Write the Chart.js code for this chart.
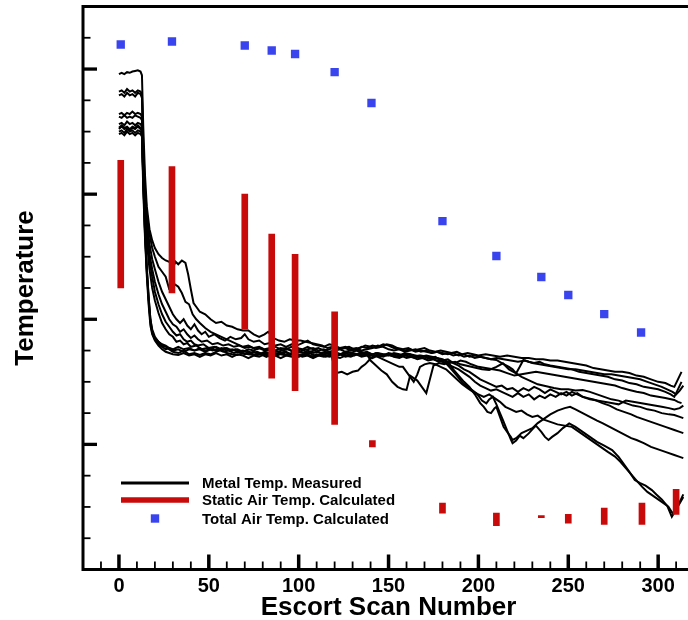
<!DOCTYPE html>
<html><head><meta charset="utf-8">
<script src="https://cdn.jsdelivr.net/npm/chart.js@4.4.1/dist/chart.umd.min.js"></script>
<style>html,body{margin:0;padding:0;overflow:hidden;background:#fff}#wrap{width:700px;height:620px}</style>
</head><body><div id="wrap"><canvas id="c" width="700" height="620"></canvas></div>
<script>
// ---- data ----
const legendLabels = ['Metal Temp. Measured', 'Static Air Temp. Calculated', 'Total Air Temp. Calculated'];
const xTitle = 'Escort Scan Number';
const yTitle = 'Temperature';

const staticX    = [1, 29.5, 70, 85, 98, 120, 141, 180, 210, 235, 250, 270, 291, 310];
const staticLow  = [125, 121, 92, 53, 43, 16, -2, -55, -65, -58.6, -63, -64, -64, -56];
const staticHigh = [227, 222, 200, 168, 152, 106, 3, -47, -55, -57, -56, -51, -47, -36];

const totalX = [1, 29.5, 70, 85, 98, 120, 140.5, 180, 210, 235, 250, 270, 290.5];
const totalY = [319.6, 322, 318.8, 314.8, 312, 297.6, 272.9, 178.5, 150.6, 133.8, 119.4, 104.1, 89.4];

const metal1 = [[0,296],[1.5,297],[3,296],[4.5,297.5],[6,297],[7.5,298],[9,298.5],[10.5,299],[12,298],[12.8,295],
[13.5,255],[14.5,215],[15.5,190],[17,172],[18.5,163],[20,157],[22,152],[24,149],[26,147],[28,146],[30,141],[31.5,146],[33,144],[35,147],[37,145],[38.5,136],[40,124],[41.5,113],[43,110],[45,106],[48,104],[51,100],[54,97],[57,98],[60,95],[63,94],[66,92],[69,91],[72,91],[75,88],[78,86],[81,88],[83,90],[86,85],[89,83],[92,82],[95,84],[98,83],[101,83],[104,82],[107,81],[110,80],[113,79],[116,77],[119,78],[122,76],[125,77],[128,78],[131,76],[134,77],[137,79],[140,78],[143,77],[146,78],[149,80],[152,79],[155,77],[158,76],[161,77],[164,75],[167,76],[170,77],[173,75],[176,74],[179,75],[182,74],[185,73],[188,74],[191,72],[194,73],[197,72],[200,71],[204,72],[208,71],[212,70],[216,71],[220,70],[224,69],[228,69],[232,68],[236,68],[240,67],[244,67],[248,66],[252,65],[256,64],[260,63],[264,61],[268,60],[272,59],[276,58],[280,58],[284,57],[288,55],[292,54],[296,52],[300,50],[304,49],[307,47],[309,46],[311,52],[313,58]];

const metal2 = [[0,282],[1.5,283],[3,281],[4.5,284],[6,282],[7.5,283],[9,281],[10.5,283],[12,282],[12.8,280],
[13.5,240],[14.5,205],[15.5,185],[17,168],[18.5,157],[20,150],[22,142],[24,138],[26,134],[28,124],[29.5,123],[31,128],[33,126],[35,121],[37,114],[39,112],[41,104],[43,100],[45,97],[48,93],[51,90],[54,88],[57,86],[60,84],[63,82],[66,80],[69,78],[72,79],[75,77],[78,78],[81,76],[84,77],[87,75],[90,77],[93,76],[96,78],[99,77],[102,75],[105,76],[108,77],[111,75],[114,76],[117,74],[120,75],[123,76],[126,74],[129,75],[132,76],[135,74],[138,72],[140,67],[143,63],[146,59],[149,56],[152,50],[155,46],[158,44],[160,43.5],[162,55],[164,53],[166,51],[168,47],[171,41],[173,52],[175,63],[178,65],[181,64],[184,66],[187,65],[190,67],[193,66],[196,64],[200,62],[204,61],[208,60],[212,59],[216,57],[220,55],[224,56],[228,57],[232,58],[236,57],[240,56],[244,55],[248,54],[252,53],[256,52],[260,51],[264,50],[268,49],[272,48],[276,47],[280,45],[284,43.5],[288,42],[292,41],[296,39],[300,38],[304,37],[309,35.5],[311,34],[313,33]];

const metal3 = [[0,279],[1.5,280],[3,278],[4.5,281],[6,279],[7.5,280],[9,278],[10.5,281],[12,280],[12.8,277],
[13.5,235],[14.5,195],[15.5,172],[17,152],[18.5,140],[20,130],[22,120],[24,112],[26,106],[28,100],[30,96],[32,94],[34,90],[36,92],[38,88],[40,85],[42,87],[44,84],[46,82],[49,83],[52,80],[55,81],[58,79],[61,80],[64,78],[67,79],[70,77],[73,78],[76,76],[79,77],[82,75],[85,76],[88,74],[91,75],[94,76],[97,74],[100,75],[103,73],[106,74],[109,75],[112,73],[115,74],[118,72],[119.5,64],[121,57],[124,58],[127,56],[130,58],[133,59],[135,62],[137,64],[139,67],[141,70],[144,72],[147,71],[150,73],[153,72],[156,71],[159,73],[162,72],[165,71],[168,70],[171,71],[174,70],[177,69],[180,68],[183,66],[186,60],[189,55],[192,50],[195,46],[198,40],[201,33],[203,30],[205,26],[207,25],[209,29],[210,30],[212,22],[214,14],[216,10],[218,6],[219,3.5],[221,5],[224,9],[227,11],[230,13],[233,17],[236,20],[240,24],[244,27],[248,29],[251,30],[254,28],[258,25],[262,22],[266,19],[269,17],[273,14],[277,11],[281,8],[285,5],[288,3.5],[292,1],[296,-2],[300,-4],[304,-6],[309,-8.5],[312,-10],[314,-11]];

const metal4 = [[0,264],[1.5,265],[3,263],[4.5,265],[6,264],[7.5,266],[9,264],[10.5,265],[12,264],[12.8,262],
[13.5,225],[14.5,190],[15.5,168],[17,148],[18.5,134],[20,122],[22,112],[24,104],[26,98],[28,94],[30,90],[32,87],[34,88],[36,84],[38,82],[40,83],[42,80],[44,79],[47,80],[50,77],[53,78],[56,76],[59,77],[62,75],[65,76],[68,74],[71,75],[74,73],[77,74],[80,72],[83,73],[86,71],[89,72],[92,74],[95,72],[98,73],[101,71],[104,72],[107,70],[110,72],[113,71],[116,73],[119,72],[122,71],[125,73],[128,72],[131,71],[134,73],[137,72],[140,71],[143,73],[146,72],[149,71],[152,72],[155,70],[158,71],[161,72],[164,70],[167,71],[170,70],[173,69],[176,70],[179,67],[182,64.8],[185,60],[188,55],[191.5,48.8],[195,45],[199,40.8],[202,35],[204.4,32.8],[206,36],[208,38],[210,32],[212,25],[213.6,19.5],[216,11],[218,4],[219,1],[221,3],[223,7],[225,5],[228,8.8],[230,12],[232,15],[235,10],[237,6],[239,3.5],[241,6],[244,9],[247,13],[250.5,16.8],[254,14],[258,10],[262,6],[266,2],[270,-1],[274.4,-4.5],[278,-10],[281,-16],[284,-22],[287,-28.5],[290,-31],[293,-33],[296.5,-36.5],[299,-40],[302,-44],[305,-49],[307.6,-57.8],[310,-52],[312,-46],[314,-40]];

const metal5 = [[0,262],[1.5,261],[3,263],[4.5,261],[6,262],[7.5,261],[9,263],[10.5,262],[12,261],[12.8,259],
[13.5,215],[14.5,170],[15.5,140],[16.5,118],[17.5,100],[18.5,92],[20,86],[22,82],[24,79],[26,78],[28,76],[30,74],[33,73],[36,75],[39,72],[42,73],[45,71.5],[48,73],[51,72],[54,74],[57,75.5],[60,73],[63,72],[66,71.5],[69,73],[72,72],[75,71.5],[78,73],[81,72],[84,71],[87,73],[90,72],[93,71],[96,73],[99,72],[102,71],[105,72],[108,70],[111,71],[114,72],[117,70],[120,71],[123,72],[126,70],[129,71],[132,72],[135,71],[138,73],[141,72],[144,70],[147,68],[150,66],[153,64],[156,62],[158,62],[160,58],[162,54],[164,50],[166,56],[167.5,62],[170,64],[173,65],[176,64],[179,62],[182,60],[185,56],[188,52],[191,48],[194,45],[197,42],[200,40],[203,38],[206,40],[209,37],[212,34],[215,30],[218,28],[221,26],[224,27],[227,24],[230,22],[233,23],[236,20],[240,18],[244,16],[248,15],[252,14],[256,10],[260,6],[264,2],[268,-2],[272,-6],[276,-9.8],[279,-14],[282,-19],[285,-24],[288,-29],[291,-33.8],[294,-38],[297,-41],[300,-44],[303,-47],[305.7,-49.8],[308,-55],[310,-52],[312,-47],[314,-42]];

const metal6 = [[0,256],[1.5,257],[3,255],[4.5,258],[6,256],[7.5,257],[9,255],[10.5,257],[12,256],[12.8,254],
[13.5,210],[14.5,168],[15.5,138],[16.5,115],[17.5,98],[18.5,89],[20,84],[22,80],[24,78],[26,76],[28,77],[30,75],[33,76],[36,74],[39,76],[42,75],[45,77],[48,75],[51,76],[54,78],[57,76],[60,77],[63,75],[66,76],[69,74],[72,76],[75,75],[78,77],[81,75],[84,76],[87,78],[90,76],[93,77],[96,75],[99,77],[102,76],[105,78],[108,76],[111,77],[114,75],[117,76],[120,78],[123,76],[126,77],[129,75],[132,76],[135,78],[138,77],[141,79],[144,78],[147,80],[150,79],[153,77],[156,76],[159,75],[162,76],[165,74],[168,75],[171,74],[174,73],[177,74],[180,73],[183,72],[186,73],[189,71],[192,72],[195,70],[198,71],[201,70],[204,69],[207,68],[210,67.5],[213,65],[217,62],[219,60],[221,56.8],[223,62],[225,67.5],[228,66],[231,65],[234,66],[237,64],[240,63],[244,62],[248,61],[252,60],[256,58],[260,57],[264,56],[268,55],[272,54],[276,52],[280,51],[284,49],[288,48],[292,46],[296,45],[300,44],[304,42],[307,40],[309,38],[311,44],[313,50]];

const metal7 = [[0,253],[1.5,255],[3,253],[4.5,254],[6,252],[7.5,254],[9,253],[10.5,255],[12,253],[12.8,251],
[13.5,215],[14.5,182],[15.5,162],[17,140],[18.5,125],[20,115],[22,105],[24,97],[26,92],[28,88],[30,86],[32,82],[34,83],[36,80],[38,81],[40,78],[43,79],[46,76],[49,77],[52,75],[55,76],[58,74],[61,75],[64,73],[67,74],[70,72],[73,73],[76,71],[79,72],[82,70],[85,72],[88,71],[91,73],[94,71],[97,72],[100,70],[103,72],[106,73],[109,71],[112,72],[115,70],[118,71],[121,73],[124,72],[127,71],[130,73],[133,72],[136,71],[139,72],[142,71],[145,70],[148,72],[151,71],[154,70],[157,71],[160,69],[163,70],[166,68],[169,69],[172,67],[175,68],[178,66],[181,67],[184,65],[187,66],[190,64],[193,63],[196,62],[199,61],[202,60],[206,59.5],[210,62],[213.6,64.8],[217,60],[221,56.8],[224,54],[227,52],[230,50],[233,48],[236,47],[239,46],[242,45],[246,44],[250,44],[254,43],[258,43.5],[262,42],[266,40],[270,38],[274,36],[278,35],[282,33],[286,31],[290,30],[294,28],[298,27],[302,25],[306,24],[309,23.5],[312,22],[314,21]];

const metal8 = [[0,250],[1.5,251],[3,249],[4.5,252],[6,250],[7.5,251],[9,249],[10.5,251],[12,250],[12.8,248],
[13.5,205],[14.5,165],[15.5,135],[16.5,112],[17.5,95],[18.5,88],[20,83],[22,79],[24,76],[26,74],[28,73],[30,72],[33,71.5],[36,73],[39,71],[42,72],[45,70],[48,72],[51,71],[54,73],[57,71],[60,72],[63,70],[66,72],[69,71],[72,69],[75,71],[78,70],[81,72],[84,70],[87,71],[90,69],[93,71],[96,70],[99,72],[102,70],[105,71],[108,69],[111,71],[114,70],[117,72],[120,70],[123,69],[126,71],[129,70],[132,72],[135,70],[138,71],[141,69],[144,71],[147,70],[150,72],[153,70],[156,69],[159,71],[162,70],[165,69],[168,70],[171,68],[174,69],[177,67],[180,66],[183,64],[186,62],[189,60],[192,57],[195,54],[198,50],[201,47],[204,45],[207,43],[210,44],[213,42],[216,40],[219,38],[222,41],[225,38],[228,40],[231,36],[234,39],[237,37],[240,40],[243,38],[246,41],[249,39],[252,42],[255,40],[258,38],[261,37],[265,35.5],[269,33],[273,31],[277,28],[281,26],[285,24],[288,22],[292,20],[296,18],[300,16],[304,14],[309,11.5],[312,10],[314,9]];

const metal9 = [[0,248],[1.5,249],[3,247],[4.5,250],[6,248],[7.5,249],[9,247],[10.5,249],[12,248],[12.8,246],
[13.5,220],[14.5,195],[15.5,178],[17,160],[18.5,148],[20,140],[22,130],[24,122],[26,116],[28,110],[30,104],[32,100],[34,97],[36,100],[38,95],[40,92],[42,96],[44,91],[46,88],[48,90],[50,86],[53,88],[56,85],[59,83],[62,86],[65,84],[68,85],[70,88],[72,84],[75,82],[78,83],[81,80],[84,81],[87,79],[90,80],[93,78],[96,80],[99,79],[102,81],[105,83],[108,80],[111,79],[114,78],[117,80],[120,79],[123,77],[126,78],[129,76],[132,77],[135,75],[138,76],[141,77],[144,79],[147,78],[150,76],[153,75],[156,76],[159,74],[162,75],[165,76],[168,74],[171,75],[174,73],[177,74],[180,72],[183,73],[186,71],[189,72],[192,70],[195,71],[198,69],[201,70],[204,69],[207,68],[210,69],[214,68],[218,67],[222,66],[226,67],[230,65],[234,64],[238,63],[242,62],[246,61],[250,60],[254,60],[258,59],[262,58],[266,57],[270,56],[274,56],[278,55],[282,54],[286,53],[290,52],[294,50],[298,48],[302,46],[305,44],[308,42],[310,40],[312,43],[314,47]];

const metal10 = [[0,252],[1.5,254],[3,252],[4.5,253],[6,251],[7.5,253],[9,252],[10.5,254],[12,252],[12.8,250],
[13.5,212],[14.5,172],[15.5,142],[16.5,118],[17.5,100],[18.5,90],[20,85],[22,82],[24,80],[26,79],[28,77],[30,76],[33,78],[36,76],[39,77],[42,75],[45,76],[48,74],[51,76],[54,75],[57,77],[60,75],[63,76],[66,74],[69,75],[72,73],[75,74],[78,72],[81,74],[84,73],[87,75],[90,73],[93,74],[96,72],[99,74],[102,73],[105,75],[108,73],[111,74],[114,72],[117,73],[120,74],[123,72],[126,74],[129,73],[132,75],[135,73],[138,74],[141,72],[144,73],[147,72],[150,71],[153,73],[156,72],[159,71],[162,72],[165,70],[168,71],[171,70],[174,68],[177,69],[180,67],[183,68],[186,65],[189,63],[192,60],[195,58],[198,55],[201,52],[204,50],[207,48],[210,46],[213,47],[216,44],[219,45],[222,42],[225,45],[228,43],[231,46],[234,44],[237,41],[240,44],[243,42],[246,40],[249,42],[252,39],[255,41],[258,38],[262,36],[266,35],[270,34],[274,33],[278,32],[282,35],[286,34],[290,33],[294,32],[298,31],[302,30],[306,29],[309,28],[312,29],[314,31]];

const metalTraces = [metal1, metal2, metal3, metal4, metal5, metal6, metal7, metal8, metal9, metal10];

// ---- styling ----
const RED = '#c80a0a';
const BLUE = '#3a44ee';
const FONT = '"Liberation Sans", Arial, sans-serif';

const datasets = [];
datasets.push({
  type: 'line', label: legendLabels[2],
  data: totalX.map((x, i) => ({x, y: totalY[i]})),
  showLine: false, pointStyle: 'rect', pointRadius: 5.9, pointBorderWidth: 0,
  pointBackgroundColor: BLUE, backgroundColor: BLUE, order: 0
});
datasets.push({
  type: 'bar', label: legendLabels[1],
  data: staticX.map((x, i) => ({x, y: [staticLow[i], staticHigh[i]]})),
  backgroundColor: RED, borderWidth: 0, barThickness: 6, grouped: false, order: 1
});
metalTraces.forEach((tr, k) => datasets.push({
  type: 'line', label: k === 0 ? legendLabels[0] : '',
  data: tr.map(p => ({x: p[0], y: p[1]})),
  borderColor: '#000', borderWidth: 2, pointRadius: 0, tension: 0, fill: false, order: 2
}));

const frameTicks = {
  id: 'frameTicks',
  afterDraw(chart) {
    const {ctx, chartArea: ca} = chart;
    const xs = chart.scales.x, ys = chart.scales.y;
    ctx.save();
    ctx.strokeStyle = '#000';
    ctx.lineCap = 'butt';
    xs.ticks.forEach(t => {
      if (t.value <= xs.min || t.value >= xs.max) return;
      const px = xs.getPixelForValue(t.value);
      const major = t.value % 50 === 0;
      ctx.lineWidth = major ? 3.5 : 1.8;
      ctx.beginPath(); ctx.moveTo(px, ca.bottom); ctx.lineTo(px, ca.bottom - (major ? 15 : 8)); ctx.stroke();
    });
    ys.ticks.forEach(t => {
      if (t.value <= ys.min || t.value >= ys.max) return;
      const py = ys.getPixelForValue(t.value);
      const major = t.value % 100 === 0;
      ctx.lineWidth = major ? 3.3 : 1.8;
      ctx.beginPath(); ctx.moveTo(ca.left, py); ctx.lineTo(ca.left + (major ? 14 : 7.5), py); ctx.stroke();
    });
    ctx.lineWidth = 3;
    ctx.strokeRect(ca.left, ca.top, ca.right - ca.left, ca.bottom - ca.top);
    ctx.restore();
  }
};

const insideLegend = {
  id: 'insideLegend',
  afterDatasetsDraw(chart) {
    const {ctx, chartArea: ca} = chart;
    const x0 = ca.left + 38, x1 = ca.left + 106, tx = ca.left + 119;
    const rows = [ca.bottom - 86.5, ca.bottom - 69.5, ca.bottom - 51];
    ctx.save();
    ctx.lineCap = 'butt';
    ctx.strokeStyle = '#000'; ctx.lineWidth = 3;
    ctx.beginPath(); ctx.moveTo(x0, rows[0]); ctx.lineTo(x1, rows[0]); ctx.stroke();
    ctx.strokeStyle = RED; ctx.lineWidth = 5.5;
    ctx.beginPath(); ctx.moveTo(x0, rows[1]); ctx.lineTo(x1, rows[1]); ctx.stroke();
    ctx.fillStyle = BLUE;
    const cx = (x0 + x1) / 2;
    ctx.fillRect(cx - 4.2, rows[2] - 4.2, 8.4, 8.4);
    ctx.fillStyle = '#000';
    ctx.font = 'bold 15px ' + FONT;
    ctx.textBaseline = 'middle';
    ctx.textAlign = 'left';
    legendLabels.forEach((s, i) => ctx.fillText(s, tx, rows[i] + 1));
    ctx.restore();
  }
};

new Chart(document.getElementById('c'), {
  type: 'line',
  data: {datasets},
  options: {
    responsive: false, animation: false, events: [],
    layout: {padding: {top: 6.5, right: 1.6, left: 0, bottom: 0}},
    plugins: {legend: {display: false}, tooltip: {enabled: false}},
    scales: {
      x: {
        type: 'linear', min: -20, max: 320, offset: false,
        grid: {display: false, drawTicks: false, offset: false},
        border: {display: false},
        ticks: {
          stepSize: 10, autoSkip: false, maxRotation: 0, padding: 5, color: '#000',
          font: {family: FONT, size: 20, weight: 'bold'},
          callback: v => (v >= 0 && v % 50 === 0) ? String(v) : ''
        },
        title: {display: true, text: xTitle, color: '#000', padding: {top: 0, bottom: -3},
          font: {family: FONT, size: 26, weight: 'bold'}},
        afterFit: s => { s.height = 50.5; }
      },
      y: {
        type: 'linear', min: -100, max: 350, beginAtZero: false,
        grid: {display: false, drawTicks: false},
        border: {display: false},
        ticks: {stepSize: 25, display: false},
        title: {display: true, text: yTitle, color: '#000', padding: {top: 10, bottom: 0},
          font: {family: FONT, size: 26, weight: 'bold'}},
        afterFit: s => { s.width = 83; }
      }
    }
  },
  plugins: [insideLegend, frameTicks]
});
</script></body></html>
